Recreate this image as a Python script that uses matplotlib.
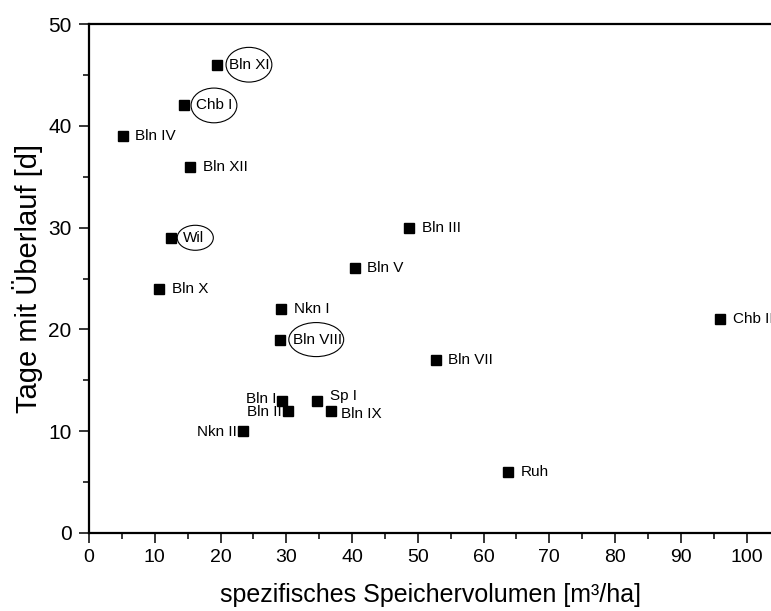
import matplotlib
matplotlib.use("Agg")
import matplotlib.pyplot as plt
from matplotlib.patches import Ellipse
from matplotlib.transforms import ScaledTranslation
from matplotlib.ticker import MultipleLocator

plt.rcParams['font.family'] = ['Liberation Sans', 'DejaVu Sans']

# Speicherbecken: spezifisches Volumen [m³/ha] und Tage mit Überlauf [d]
names = ['Bln XI', 'Chb I', 'Bln IV', 'Bln XII', 'Wil', 'Bln X', 'Nkn I',
         'Bln VIII', 'Bln III', 'Bln V', 'Chb II', 'Bln VII', 'Bln I',
         'Bln II', 'Sp I', 'Bln IX', 'Nkn II', 'Ruh']
volumen = [19.4, 14.4, 5.1, 15.4, 12.4, 10.7, 29.2,
           29.0, 48.7, 40.4, 96.0, 52.7, 29.4,
           30.2, 34.7, 36.8, 23.4, 63.7]
tage = [46, 42, 39, 36, 29, 24, 22,
        19, 30, 26, 21, 17, 13,
        12, 13, 12, 10, 6]

# labels written left of the marker, and small shifts (points)
left_labels = ['Bln I', 'Bln II', 'Nkn II']
dy = {'Bln I': 1.5, 'Sp I': 3.0, 'Bln IX': -2.0, 'Bln II': -1.0, 'Nkn II': -0.7}
dx_right = {'Bln IX': 7.5}
# circled labels: ellipse centre offset, width, height (points)
circled = {'Bln XI': (23.3, 33, 25), 'Chb I': (21.8, 33, 25),
           'Wil': (17.8, 26, 18), 'Bln VIII': (26.3, 39.5, 24.5)}

fig = plt.figure(figsize=(7.71, 6.11), dpi=100)
ax = fig.add_axes([89/771, 1-533/611, 682/771, (533-24)/611])

ax.plot(volumen, tage, 's', color='black', markersize=6.5, clip_on=False)

for n, x, y in zip(names, volumen, tage):
    if n in left_labels:
        ax.annotate(n, (x, y), xytext=(-4.2, dy.get(n, 0)), textcoords='offset points',
                    ha='right', va='center', fontsize=11)
    else:
        ax.annotate(n, (x, y), xytext=(dx_right.get(n, 9.2), dy.get(n, 0)),
                    textcoords='offset points', ha='left', va='center', fontsize=11)
    if n in circled:
        cx, w, h = circled[n]
        trans = fig.dpi_scale_trans + ScaledTranslation(x, y, ax.transData)
        ax.add_patch(Ellipse((cx/72, 0), w/72, h/72, transform=trans,
                             fill=False, edgecolor='black', linewidth=0.8,
                             clip_on=False))

ax.set_xlim(0, 103.7)
ax.set_ylim(0, 50)
ax.xaxis.set_major_locator(MultipleLocator(10))
ax.xaxis.set_minor_locator(MultipleLocator(5))
ax.yaxis.set_major_locator(MultipleLocator(10))
ax.yaxis.set_minor_locator(MultipleLocator(5))

ax.spines['right'].set_visible(False)
for s in ['left', 'bottom', 'top']:
    ax.spines[s].set_linewidth(1.6)
ax.tick_params(which='major', direction='out', length=7.5, width=1.1,
               pad=4, top=False, right=False)
ax.tick_params(which='minor', direction='out', length=4, width=1.1,
               top=False, right=False)
ax.tick_params(axis='x', labelsize=14)
ax.tick_params(axis='y', labelsize=15, pad=5)

ax.set_xlabel('spezifisches Speichervolumen [m³/ha]', fontsize=18, labelpad=12)
ax.set_ylabel('Tage mit Überlauf [d]', fontsize=21)
ax.yaxis.set_label_coords(-0.068, 0.5)

fig.savefig('out.png', dpi=100)
